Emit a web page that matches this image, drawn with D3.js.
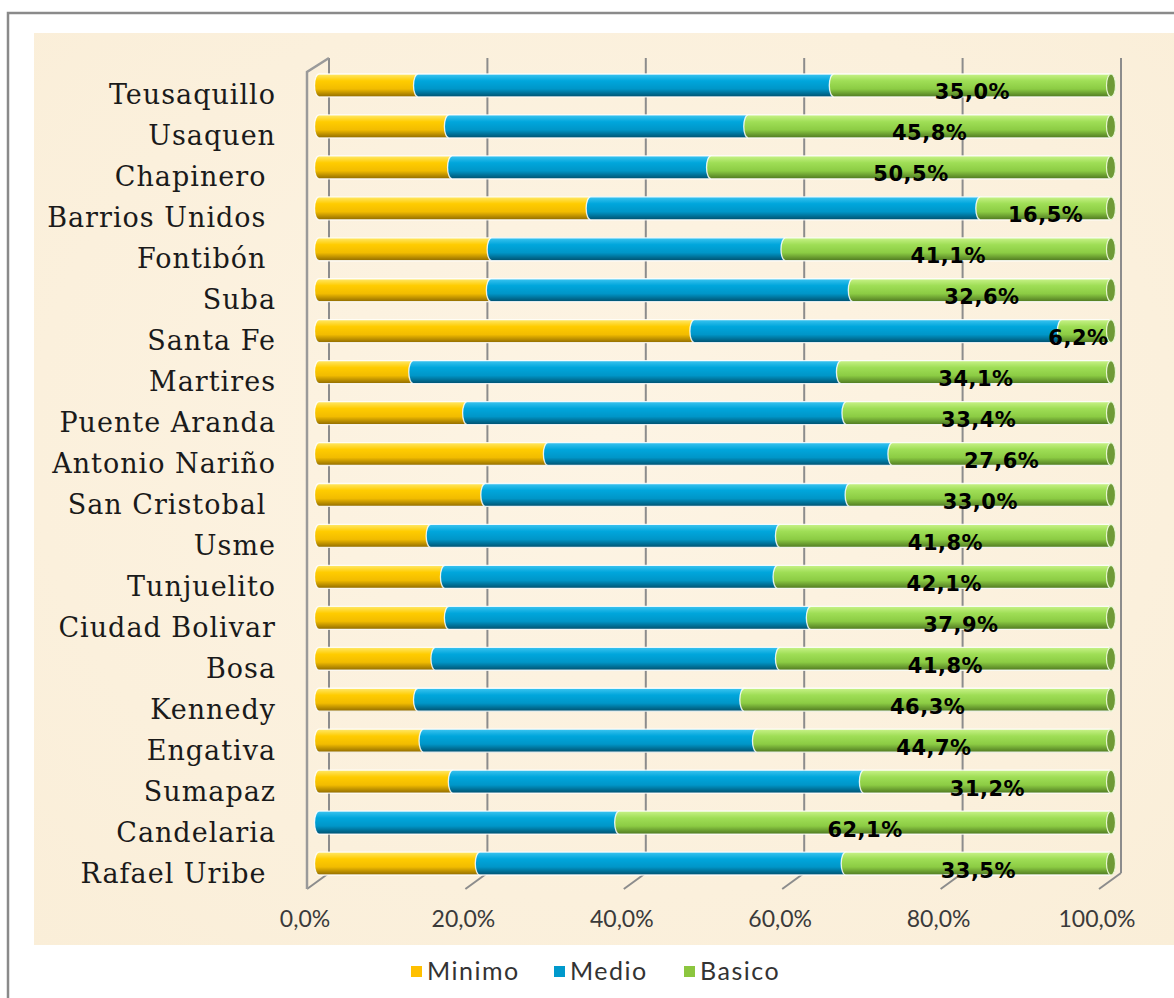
<!DOCTYPE html>
<html>
<head>
<meta charset="utf-8">
<script src="https://cdn.jsdelivr.net/npm/d3@7/dist/d3.min.js"></script>
<style>
  html, body { margin: 0; padding: 0; background: #fff; }
  svg { display: block; }
</style>
</head>
<body>
<div id="chart"></div>
<script>
// values (percent)
var categories = ["Teusaquillo", "Usaquen", "Chapinero ", "Barrios Unidos ", "Fontibón ", "Suba",
    "Santa Fe", "Martires", "Puente Aranda", "Antonio Nariño", "San Cristobal ", "Usme",
    "Tunjuelito", "Ciudad Bolivar", "Bosa", "Kennedy", "Engativa", "Sumapaz", "Candelaria", "Rafael Uribe "];
var minimo = [12.5, 16.4, 16.8, 34.3, 21.8, 21.7, 47.4, 11.9, 18.7, 28.9, 21.0, 14.1, 15.9, 16.4, 14.7, 12.5, 13.2, 16.9, 0, 20.3];
var medio  = [52.5, 37.8, 32.7, 49.2, 37.1, 45.7, 46.4, 54.0, 47.9, 43.5, 46.0, 44.1, 42.0, 45.7, 43.5, 41.2, 42.1, 51.9, 37.9, 46.2];
var basico = [35.0, 45.8, 50.5, 16.5, 41.1, 32.6, 6.2, 34.1, 33.4, 27.6, 33.0, 41.8, 42.1, 37.9, 41.8, 46.3, 44.7, 31.2, 62.1, 33.5];
var seriesNames = ["Minimo", "Medio", "Basico"];
var ticks = [0, 20, 40, 60, 80, 100];

var W = 1174, H = 998;
var svg = d3.select("#chart").append("svg").attr("width", W).attr("height", H);
var defs = svg.append("defs");

var colors = {
    Minimo: ["#ffe86a", "#ffcc00", "#f2bc00", "#8f6a00"],
    Medio:  ["#3cc4f0", "#00a6dc", "#0096c8", "#00506e"],
    Basico: ["#c8f288", "#9fde56", "#8ccc44", "#4f7820"]
};
var legendColors = { Minimo: "#ffc000", Medio: "#0099cc", Basico: "#8cc63f" };

seriesNames.forEach(function (s) {
    var g = defs.append("linearGradient").attr("id", "g" + s)
        .attr("x1", 0).attr("y1", 0).attr("x2", 0).attr("y2", 1);
    g.append("stop").attr("offset", "0%").attr("stop-color", colors[s][0]);
    g.append("stop").attr("offset", "30%").attr("stop-color", colors[s][1]);
    g.append("stop").attr("offset", "65%").attr("stop-color", colors[s][2]);
    g.append("stop").attr("offset", "100%").attr("stop-color", colors[s][3]);
});

// parchment background
var bg = defs.append("radialGradient").attr("id", "paper").attr("cx", "50%").attr("cy", "45%").attr("r", "75%");
bg.append("stop").attr("offset", "0%").attr("stop-color", "#fdf4e4");
bg.append("stop").attr("offset", "100%").attr("stop-color", "#faeed8");

// outer frame
svg.append("path").attr("d", "M8,998 V13 H1174")
    .attr("fill", "none").attr("stroke", "#8a8a8a").attr("stroke-width", 2.5);
svg.append("rect").attr("x", 34).attr("y", 33).attr("width", W - 34).attr("height", 912)
    .attr("fill", "url(#paper)");

// scales: bars sit between the back wall and the front floor edge
var x = d3.scaleLinear().domain([0, 100]).range([319, 1111]);
var xBack = d3.scaleLinear().domain([0, 100]).range([329, 1121]);
var xFront = d3.scaleLinear().domain([0, 100]).range([307, 1099]);
var y = d3.scaleBand().domain(categories).range([65, 884]).paddingInner(0.44).paddingOuter(0.22);

var backTop = 58, backBottom = 873, frontBottom = 889, frontTop = 72;

// back wall gridlines
svg.append("g").selectAll("line").data(ticks).join("line")
    .attr("x1", function (d) { return xBack(d); }).attr("x2", function (d) { return xBack(d); })
    .attr("y1", backTop).attr("y2", backBottom)
    .attr("stroke", "#8c8c8c").attr("stroke-width", 2);

// floor diagonals
svg.append("g").selectAll("line").data(ticks).join("line")
    .attr("x1", function (d) { return xBack(d); }).attr("y1", backBottom)
    .attr("x2", function (d) { return xFront(d); }).attr("y2", frontBottom)
    .attr("stroke", "#8c8c8c").attr("stroke-width", 2);

// left side wall
svg.append("path")
    .attr("d", "M" + xFront(0) + "," + frontBottom + " V" + frontTop + " L" + xBack(0) + "," + backTop)
    .attr("fill", "none").attr("stroke", "#9a9a9a").attr("stroke-width", 2.5);

// stacked cylinders
var rows = categories.map(function (c, i) {
    var v = [minimo[i], medio[i], basico[i]];
    var acc = 0;
    return seriesNames.map(function (s, k) {
        var seg = { cat: c, s: s, x0: acc, x1: acc + v[k], v: v[k], last: k === 2 };
        acc += v[k];
        return seg;
    }).filter(function (d) { return d.v > 0; });
});
var segs = [].concat.apply([], rows);

var bh = y.bandwidth(), rx = 4.5;
function segPath(d) {
    var top = y(d.cat), bot = top + bh, ry = bh / 2;
    var a = x(d.x0), b = x(d.x1);
    return "M" + a + "," + top + " H" + b +
        " A" + rx + "," + ry + " 0 0 1 " + b + "," + bot +
        " H" + a + " A" + rx + "," + ry + " 0 0 1 " + a + "," + top + " Z";
}

var bars = svg.append("g");
bars.selectAll("path").data(segs).join("path")
    .attr("d", segPath)
    .attr("fill", function (d) { return "url(#g" + d.s + ")"; })
    .attr("stroke", "#ffffff").attr("stroke-opacity", 0.85).attr("stroke-width", 1.3);

// end faces of the cylinders
bars.selectAll("ellipse").data(segs.filter(function (d) { return d.last; })).join("ellipse")
    .attr("cx", function (d) { return x(d.x1); })
    .attr("cy", function (d) { return y(d.cat) + bh / 2; })
    .attr("rx", rx).attr("ry", bh / 2)
    .attr("fill", "#6f9a36").attr("stroke", "#e8f5d0").attr("stroke-width", 1.2);

// data labels on Basico
svg.append("g").selectAll("text").data(segs.filter(function (d) { return d.s === "Basico"; })).join("text")
    .attr("x", function (d) { return x((d.x0 + d.x1) / 2) - (d.v < 10 ? 8 : 0); })
    .attr("y", function (d) { return y(d.cat) + bh / 2 + 14; })
    .attr("text-anchor", "middle")
    .attr("font-family", "'DejaVu Sans', sans-serif").attr("font-weight", "bold").attr("font-size", 21)
    .attr("letter-spacing", 0.5)
    .attr("fill", "#000")
    .text(function (d) { return d.v.toFixed(1).replace(".", ",") + "%"; });

// category labels
svg.append("g").selectAll("text").data(categories).join("text")
    .attr("x", 276)
    .attr("y", function (d) { return y(d) + bh / 2 + 19; })
    .attr("text-anchor", "end")
    .attr("xml:space", "preserve").style("white-space", "pre")
    .attr("font-family", "'DejaVu Serif', serif").attr("font-size", 27)
    .attr("letter-spacing", 1)
    .attr("fill", "#1a1a1a")
    .text(function (d) { return d; });

// tick labels
svg.append("g").selectAll("text").data(ticks).join("text")
    .attr("x", function (d) { return xFront(d) - 2; })
    .attr("y", 927)
    .attr("text-anchor", "middle")
    .attr("font-family", "'Lato', sans-serif").attr("font-size", 23)
    .attr("fill", "#3a3a3a")
    .text(function (d) { return d.toFixed(1).replace(".", ",") + "%"; });

// legend
var legendX = [411, 554, 684];
var lg = svg.append("g").selectAll("g").data(seriesNames).join("g")
    .attr("transform", function (d, i) { return "translate(" + legendX[i] + ",966)"; });
lg.append("rect").attr("width", 11).attr("height", 11)
    .attr("fill", function (d) { return legendColors[d]; });
lg.append("text").attr("x", 16).attr("y", 14)
    .attr("font-family", "'Lato', sans-serif").attr("font-size", 25)
    .attr("letter-spacing", 1.5)
    .attr("fill", "#333")
    .text(function (d) { return d; });
</script>
</body>
</html>
